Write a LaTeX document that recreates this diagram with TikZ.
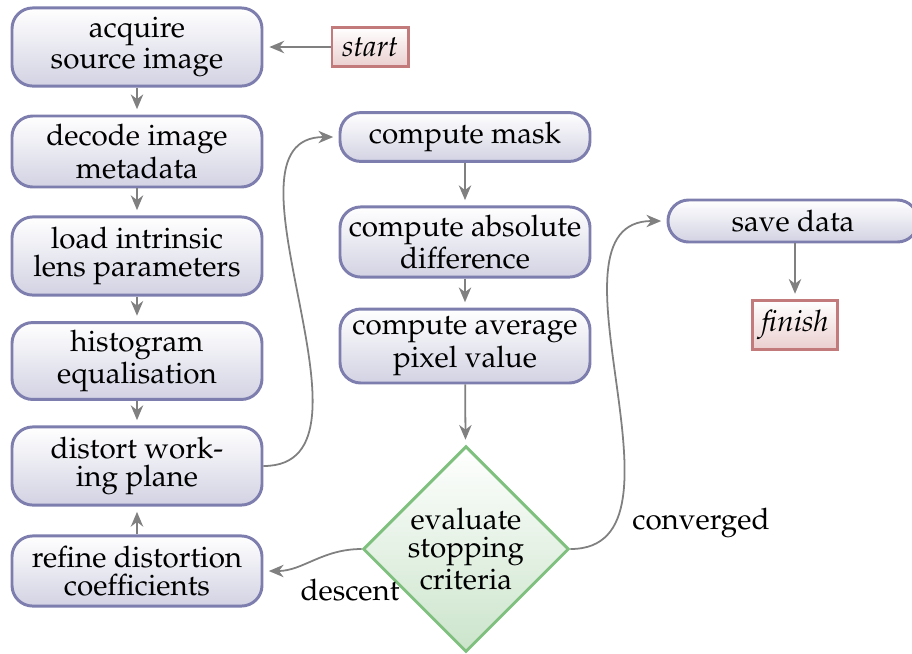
\documentclass[tikz,border=0pt]{standalone}
\usepackage[T1]{fontenc}
\usepackage{mathpazo}
\usetikzlibrary{shapes.geometric,arrows.meta}
\definecolor{boxline}{HTML}{7D7DAE}
\definecolor{boxbot}{HTML}{D2D2E3}
\definecolor{termline}{HTML}{C27A7A}
\definecolor{termbot}{HTML}{EBCFCF}
\definecolor{decline}{HTML}{7FC07F}
\definecolor{decbot}{HTML}{CBE4CB}
\definecolor{arrowc}{HTML}{808080}
\begin{document}
\begin{tikzpicture}[x=0.338pt,y=-0.338pt,
  font=\fontsize{10}{9.5}\selectfont,
  procbox/.style={draw=boxline, line width=1pt, rounded corners=7pt,
    top color=white, bottom color=boxbot, align=center,
    minimum width=84.5pt, inner sep=2pt},
  termbox/.style={draw=termline, line width=1pt, top color=white,
    bottom color=termbot, font=\fontsize{10}{9.5}\selectfont\itshape, inner sep=0pt},
  decbox/.style={diamond, draw=decline, line width=1pt, top color=white,
    bottom color=decbot, align=center, inner sep=0pt,
    minimum width=69.6pt, minimum height=69.6pt},
  conn/.style={draw=arrowc, line width=0.6pt,
    -{Stealth[length=5pt,width=4.2pt,inset=1.6pt]}, shorten >=1.8pt},
  lbl/.style={inner sep=0pt}]
\useasboundingbox (0,0) rectangle (912,653);
\node[procbox, minimum height=26.4pt] (acq) at (137,47) {acquire\\source image};
\node[procbox, minimum height=24pt] (dec) at (137,151.5) {decode image\\metadata};
\node[procbox, minimum height=26.4pt] (load) at (137,256) {load intrinsic\\lens parameters};
\node[procbox, minimum height=26pt] (hist) at (137,361) {histogram\\equalisation};
\node[procbox, minimum height=26.4pt] (dist) at (137,466) {distort work-\\ing plane};
\node[procbox, minimum height=23.7pt] (ref) at (137,571) {refine distortion\\coefficients};
\node[termbox, minimum width=25.7pt, minimum height=13.2pt] (start) at (370,47) {start};
\node[procbox, minimum height=16.5pt] (mask) at (465,137) {compute mask};
\node[procbox, minimum height=23.7pt] (abs) at (465,242) {compute absolute\\difference};
\node[procbox, minimum height=25pt] (avg) at (465,346) {compute average\\pixel value};
\node[decbox] (eval) at (466,549) {evaluate\\stopping\\criteria};
\node[procbox, minimum height=14.2pt] (save) at (793,221) {save data};
\node[termbox, minimum width=29pt, minimum height=16.5pt] (fin) at (795,325) {finish};
\node[lbl] (conv) at (701,523) {converged};
\node[lbl] (desc) at (350,590) {descent};

\draw[conn, shorten >=2pt] (start) -- (acq);
\draw[conn] (acq) -- (dec);
\draw[conn] (dec) -- (load);
\draw[conn] (load) -- (hist);
\draw[conn] (hist) -- (dist);
\draw[conn] (ref) -- (dist);
\draw[conn] (dist.east) to[out=0,in=180] (mask.west);
\draw[conn] (mask) -- (abs);
\draw[conn] (abs) -- (avg);
\draw[conn] (avg) -- (eval);
\draw[conn] (eval.west) to[out=180,in=0] (ref.east);
\draw[conn] (eval.east) to[out=0,in=180] (save.west);
\draw[conn] (save.south -| fin.north) -- (fin);
\end{tikzpicture}
\end{document}
